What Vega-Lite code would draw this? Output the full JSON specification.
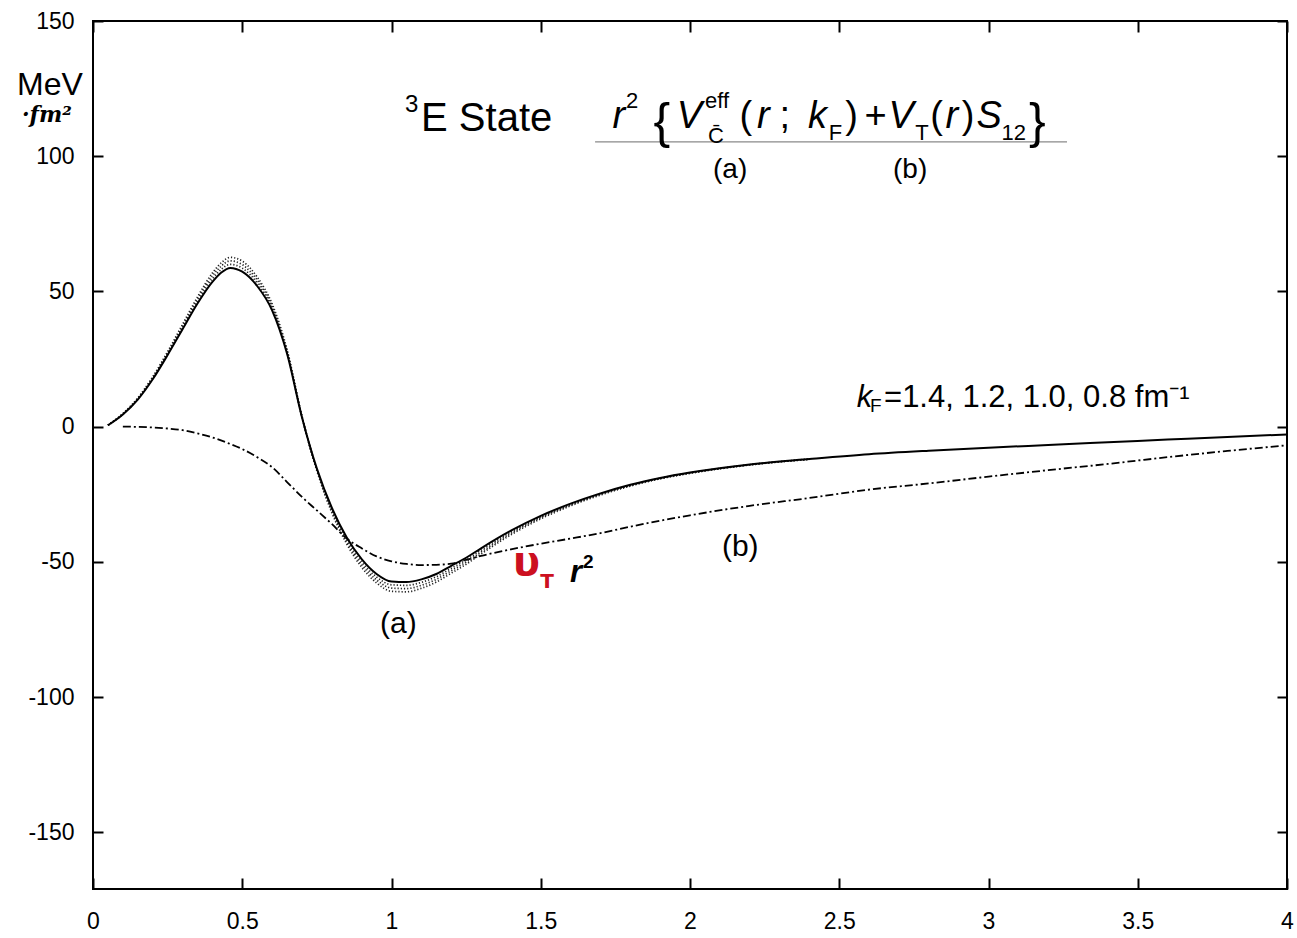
{
  "$schema": "https://vega.github.io/schema/vega-lite/v6.json",
  "width": 1194,
  "height": 868,
  "autosize": "none",
  "padding": {"left": 93, "top": 21, "right": 10, "bottom": 49},
  "background": "white",
  "config": {
    "view": {"stroke": "black", "strokeWidth": 2},
    "font": "Liberation Sans",
    "axis": {"grid": false, "domain": false, "ticks": true, "tickColor": "black", "tickWidth": 2, "labelColor": "black", "labelFont": "Liberation Sans", "labelFontSize": 23}
  },
  "resolve": {"axis": {"x": "independent", "y": "independent"}},
  "datasets": {
    "a_solid": [
      {"r": 0.05, "v": 0.5}, {"r": 0.1, "v": 4.5}, {"r": 0.15, "v": 10}, {"r": 0.2, "v": 17.5}, {"r": 0.25, "v": 26.5},
      {"r": 0.3, "v": 36}, {"r": 0.35, "v": 45.5}, {"r": 0.4, "v": 53.5}, {"r": 0.43, "v": 57}, {"r": 0.46, "v": 58.7},
      {"r": 0.5, "v": 57.3}, {"r": 0.55, "v": 52}, {"r": 0.6, "v": 43}, {"r": 0.65, "v": 27}, {"r": 0.7, "v": 3.5},
      {"r": 0.75, "v": -15.5}, {"r": 0.8, "v": -30}, {"r": 0.85, "v": -41}, {"r": 0.9, "v": -49}, {"r": 0.95, "v": -54.5},
      {"r": 1.0, "v": -57.3}, {"r": 1.05, "v": -57.5}, {"r": 1.1, "v": -56.5}, {"r": 1.15, "v": -54.5}, {"r": 1.2, "v": -51.5},
      {"r": 1.25, "v": -48.5}, {"r": 1.3, "v": -45}, {"r": 1.4, "v": -38.5}, {"r": 1.5, "v": -33}, {"r": 1.6, "v": -28.5},
      {"r": 1.7, "v": -24.7}, {"r": 1.8, "v": -21.5}, {"r": 1.9, "v": -19}, {"r": 2.0, "v": -17}, {"r": 2.2, "v": -14},
      {"r": 2.4, "v": -12}, {"r": 2.6, "v": -10.2}, {"r": 2.8, "v": -8.9}, {"r": 3.0, "v": -7.8}, {"r": 3.2, "v": -6.8},
      {"r": 3.4, "v": -5.8}, {"r": 3.6, "v": -4.8}, {"r": 3.8, "v": -3.8}, {"r": 4.0, "v": -2.9}
    ],
    "a_dot": [
      {"k": "1.2", "r": 0.05, "v": 0.5}, {"k": "1.2", "r": 0.1, "v": 4.6}, {"k": "1.2", "r": 0.15, "v": 10.2}, {"k": "1.2", "r": 0.2, "v": 17.8}, {"k": "1.2", "r": 0.25, "v": 26.9},
      {"k": "1.2", "r": 0.3, "v": 36.6}, {"k": "1.2", "r": 0.35, "v": 46.3}, {"k": "1.2", "r": 0.4, "v": 54.6}, {"k": "1.2", "r": 0.43, "v": 58.2}, {"k": "1.2", "r": 0.46, "v": 60},
      {"k": "1.2", "r": 0.5, "v": 58.6}, {"k": "1.2", "r": 0.55, "v": 53.1}, {"k": "1.2", "r": 0.6, "v": 43.8}, {"k": "1.2", "r": 0.65, "v": 27.5}, {"k": "1.2", "r": 0.7, "v": 3.6},
      {"k": "1.2", "r": 0.75, "v": -15.8}, {"k": "1.2", "r": 0.8, "v": -30.6}, {"k": "1.2", "r": 0.85, "v": -41.8}, {"k": "1.2", "r": 0.9, "v": -50}, {"k": "1.2", "r": 0.95, "v": -55.6},
      {"k": "1.2", "r": 1.0, "v": -58.5}, {"k": "1.2", "r": 1.05, "v": -58.7}, {"k": "1.2", "r": 1.1, "v": -57.6}, {"k": "1.2", "r": 1.15, "v": -55.5}, {"k": "1.2", "r": 1.2, "v": -52.4},
      {"k": "1.2", "r": 1.25, "v": -49.3}, {"k": "1.2", "r": 1.3, "v": -45.7}, {"k": "1.2", "r": 1.4, "v": -39}, {"k": "1.2", "r": 1.5, "v": -33.4}, {"k": "1.2", "r": 1.6, "v": -28.8},
      {"k": "1.2", "r": 1.7, "v": -24.9}, {"k": "1.2", "r": 1.8, "v": -21.7}, {"k": "1.2", "r": 1.9, "v": -19.1}, {"k": "1.2", "r": 2.0, "v": -17.1}, {"k": "1.2", "r": 2.2, "v": -14.1}, {"k": "1.2", "r": 2.4, "v": -12},
      {"k": "1.0", "r": 0.05, "v": 0.5}, {"k": "1.0", "r": 0.1, "v": 4.7}, {"k": "1.0", "r": 0.15, "v": 10.4}, {"k": "1.0", "r": 0.2, "v": 18.1}, {"k": "1.0", "r": 0.25, "v": 27.3},
      {"k": "1.0", "r": 0.3, "v": 37.2}, {"k": "1.0", "r": 0.35, "v": 47.1}, {"k": "1.0", "r": 0.4, "v": 55.7}, {"k": "1.0", "r": 0.43, "v": 59.4}, {"k": "1.0", "r": 0.46, "v": 61.3},
      {"k": "1.0", "r": 0.5, "v": 59.9}, {"k": "1.0", "r": 0.55, "v": 54.2}, {"k": "1.0", "r": 0.6, "v": 44.6}, {"k": "1.0", "r": 0.65, "v": 28}, {"k": "1.0", "r": 0.7, "v": 3.7},
      {"k": "1.0", "r": 0.75, "v": -16.1}, {"k": "1.0", "r": 0.8, "v": -31.2}, {"k": "1.0", "r": 0.85, "v": -42.6}, {"k": "1.0", "r": 0.9, "v": -51}, {"k": "1.0", "r": 0.95, "v": -56.7},
      {"k": "1.0", "r": 1.0, "v": -59.7}, {"k": "1.0", "r": 1.05, "v": -59.9}, {"k": "1.0", "r": 1.1, "v": -58.7}, {"k": "1.0", "r": 1.15, "v": -56.5}, {"k": "1.0", "r": 1.2, "v": -53.3},
      {"k": "1.0", "r": 1.25, "v": -50.1}, {"k": "1.0", "r": 1.3, "v": -46.4}, {"k": "1.0", "r": 1.4, "v": -39.5}, {"k": "1.0", "r": 1.5, "v": -33.7}, {"k": "1.0", "r": 1.6, "v": -29},
      {"k": "1.0", "r": 1.7, "v": -25.1}, {"k": "1.0", "r": 1.8, "v": -21.8}, {"k": "1.0", "r": 1.9, "v": -19.2}, {"k": "1.0", "r": 2.0, "v": -17.2}, {"k": "1.0", "r": 2.2, "v": -14.1}, {"k": "1.0", "r": 2.4, "v": -12.1},
      {"k": "0.8", "r": 0.05, "v": 0.5}, {"k": "0.8", "r": 0.1, "v": 4.8}, {"k": "0.8", "r": 0.15, "v": 10.6}, {"k": "0.8", "r": 0.2, "v": 18.4}, {"k": "0.8", "r": 0.25, "v": 27.7},
      {"k": "0.8", "r": 0.3, "v": 37.8}, {"k": "0.8", "r": 0.35, "v": 47.9}, {"k": "0.8", "r": 0.4, "v": 56.8}, {"k": "0.8", "r": 0.43, "v": 60.6}, {"k": "0.8", "r": 0.46, "v": 62.6},
      {"k": "0.8", "r": 0.5, "v": 61.2}, {"k": "0.8", "r": 0.55, "v": 55.3}, {"k": "0.8", "r": 0.6, "v": 45.4}, {"k": "0.8", "r": 0.65, "v": 28.5}, {"k": "0.8", "r": 0.7, "v": 3.8},
      {"k": "0.8", "r": 0.75, "v": -16.4}, {"k": "0.8", "r": 0.8, "v": -31.8}, {"k": "0.8", "r": 0.85, "v": -43.4}, {"k": "0.8", "r": 0.9, "v": -52}, {"k": "0.8", "r": 0.95, "v": -57.8},
      {"k": "0.8", "r": 1.0, "v": -60.9}, {"k": "0.8", "r": 1.05, "v": -61.1}, {"k": "0.8", "r": 1.1, "v": -59.8}, {"k": "0.8", "r": 1.15, "v": -57.5}, {"k": "0.8", "r": 1.2, "v": -54.2},
      {"k": "0.8", "r": 1.25, "v": -50.9}, {"k": "0.8", "r": 1.3, "v": -47.1}, {"k": "0.8", "r": 1.4, "v": -40}, {"k": "0.8", "r": 1.5, "v": -34.1}, {"k": "0.8", "r": 1.6, "v": -29.3},
      {"k": "0.8", "r": 1.7, "v": -25.3}, {"k": "0.8", "r": 1.8, "v": -22}, {"k": "0.8", "r": 1.9, "v": -19.3}, {"k": "0.8", "r": 2.0, "v": -17.3}, {"k": "0.8", "r": 2.2, "v": -14.2}, {"k": "0.8", "r": 2.4, "v": -12.1}
    ],
    "b": [
      {"r": 0.1, "v": 0}, {"r": 0.2, "v": -0.3}, {"r": 0.25, "v": -0.7}, {"r": 0.3, "v": -1.3}, {"r": 0.35, "v": -2.5},
      {"r": 0.4, "v": -4}, {"r": 0.45, "v": -6}, {"r": 0.5, "v": -8.3}, {"r": 0.55, "v": -11.3}, {"r": 0.6, "v": -15},
      {"r": 0.65, "v": -20.5}, {"r": 0.7, "v": -26}, {"r": 0.75, "v": -31}, {"r": 0.8, "v": -36}, {"r": 0.85, "v": -41.4},
      {"r": 0.9, "v": -45}, {"r": 0.95, "v": -48}, {"r": 1.0, "v": -49.8}, {"r": 1.05, "v": -50.8}, {"r": 1.1, "v": -51.2},
      {"r": 1.15, "v": -51.1}, {"r": 1.2, "v": -50.7}, {"r": 1.25, "v": -49.3}, {"r": 1.3, "v": -47.8}, {"r": 1.4, "v": -45.4},
      {"r": 1.5, "v": -43.3}, {"r": 1.6, "v": -41.4}, {"r": 1.7, "v": -39.4}, {"r": 1.8, "v": -37}, {"r": 1.9, "v": -34.8},
      {"r": 2.0, "v": -32.8}, {"r": 2.2, "v": -29.3}, {"r": 2.4, "v": -26.4}, {"r": 2.6, "v": -23.3}, {"r": 2.8, "v": -21},
      {"r": 3.0, "v": -18.5}, {"r": 3.2, "v": -16.1}, {"r": 3.4, "v": -13.8}, {"r": 3.6, "v": -11.3}, {"r": 3.8, "v": -9}, {"r": 4.0, "v": -6.9}
    ],
    "t_big": [{"t": "E State", "r": 1.099, "v": 109.3}],
    "t_sup3": [{"t": "3", "r": 1.045, "v": 116.3}],
    "f_it": [
      {"t": "r", "r": 1.740, "v": 110.4}, {"t": "V", "r": 1.956, "v": 110.4}, {"t": "r", "r": 2.2245, "v": 110.4},
      {"t": "k", "r": 2.395, "v": 110.4}, {"t": "V", "r": 2.665, "v": 110.4}, {"t": "r", "r": 2.856, "v": 110.4}, {"t": "S", "r": 2.960, "v": 110.4}
    ],
    "f_up": [
      {"t": "(", "r": 2.166, "v": 110.4}, {"t": ";", "r": 2.300, "v": 110.4}, {"t": ")", "r": 2.520, "v": 110.4},
      {"t": "+", "r": 2.585, "v": 110.4}, {"t": "(", "r": 2.805, "v": 110.4}, {"t": ")", "r": 2.910, "v": 110.4}
    ],
    "f_brace": [{"t": "{", "r": 1.878, "v": 106.7}, {"t": "}", "r": 3.136, "v": 106.7}],
    "f_small": [
      {"t": "2", "r": 1.786, "v": 117.8}, {"t": "eff", "r": 2.050, "v": 117.8}, {"t": "C̄", "r": 2.060, "v": 104.8},
      {"t": "F", "r": 2.465, "v": 106.0}, {"t": "T", "r": 2.755, "v": 106.0}, {"t": "12", "r": 3.0435, "v": 106.0}
    ],
    "uline": [{"r": 1.682, "r2": 3.263, "v": 105.3}],
    "lab_title": [{"t": "(a)", "r": 2.077, "v": 91.9}, {"t": "(b)", "r": 2.680, "v": 91.9}],
    "lab_plot": [{"t": "(a)", "r": 0.9615, "v": -76.3}, {"t": "(b)", "r": 2.107, "v": -47.9}],
    "kf_it": [{"t": "k", "r": 2.559, "v": 7.25}],
    "kf_sub": [{"t": "F", "r": 2.603, "v": 5.4}],
    "kf_main": [{"t": "=1.4, 1.2, 1.0, 0.8 fm⁻¹", "r": 2.650, "v": 7.25}],
    "unit_mev": [{"t": "MeV", "r": -0.2546, "v": 122.6}],
    "unit_fm": [{"t": "·fm²", "r": -0.238, "v": 112.6}],
    "red_u": [{"t": "υ", "r": 1.407, "v": -54.9}],
    "red_t": [{"t": "T", "r": 1.498, "v": -59.7}],
    "r2_r": [{"t": "r", "r": 1.598, "v": -57.5}],
    "r2_2": [{"t": "2", "r": 1.6415, "v": -52.3}]
  },
  "layer": [
    {
      "mark": {"type": "rule", "color": "black", "strokeWidth": 1.4},
      "encoding": {"y": {"datum": 0, "type": "quantitative", "axis": null}}
    },
    {
      "data": {"name": "b"},
      "mark": {"type": "line", "color": "black", "strokeWidth": 1.8, "strokeDash": [8, 3, 2, 3], "interpolate": "monotone"},
      "encoding": {
        "x": {"field": "r", "type": "quantitative", "axis": null},
        "y": {"field": "v", "type": "quantitative", "axis": null}
      }
    },
    {
      "data": {"name": "a_dot"},
      "mark": {"type": "line", "color": "#222", "strokeWidth": 1.7, "strokeDash": [1.2, 2], "interpolate": "monotone"},
      "encoding": {
        "x": {"field": "r", "type": "quantitative", "axis": {"orient": "top", "values": [0, 0.5, 1, 1.5, 2, 2.5, 3, 3.5, 4], "labels": false, "tickSize": -11, "title": null}},
        "y": {"field": "v", "type": "quantitative", "axis": {"orient": "right", "values": [-150, -100, -50, 0, 50, 100, 150], "labels": false, "tickSize": -10, "title": null}},
        "detail": {"field": "k"}
      }
    },
    {
      "data": {"name": "a_solid"},
      "mark": {"type": "line", "color": "black", "strokeWidth": 2, "interpolate": "monotone"},
      "encoding": {
        "x": {"field": "r", "type": "quantitative", "scale": {"domain": [0, 4], "nice": false, "zero": false},
              "axis": {"orient": "bottom", "values": [0, 0.5, 1, 1.5, 2, 2.5, 3, 3.5, 4], "format": "~g", "labelFontSize": 23, "tickSize": -11, "labelPadding": 32, "labelFlush": false, "labelOverlap": false, "title": null}},
        "y": {"field": "v", "type": "quantitative", "scale": {"domain": [-171, 150], "nice": false, "zero": false},
              "axis": {"orient": "left", "values": [-150, -100, -50, 0, 50, 100, 150], "format": "d", "labelFontSize": 23, "labelExpr": "replace(datum.label, '−', '-')", "tickSize": -10, "labelPadding": 29, "labelOverlap": false, "title": null}}
      }
    },
    {
      "data": {"name": "uline"},
      "mark": {"type": "rule", "color": "#8a8a8a", "strokeWidth": 1.2},
      "encoding": {
        "x": {"field": "r", "type": "quantitative", "axis": null},
        "x2": {"field": "r2"},
        "y": {"field": "v", "type": "quantitative", "axis": null}
      }
    },
    {
      "data": {"name": "t_big"},
      "mark": {"type": "text", "align": "left", "baseline": "alphabetic", "fontSize": 40, "font": "Liberation Sans", "color": "black"},
      "encoding": {"x": {"field": "r", "type": "quantitative", "axis": null}, "y": {"field": "v", "type": "quantitative", "axis": null}, "text": {"field": "t"}}
    },
    {
      "data": {"name": "t_sup3"},
      "mark": {"type": "text", "align": "left", "baseline": "alphabetic", "fontSize": 24, "font": "Liberation Sans", "color": "black"},
      "encoding": {"x": {"field": "r", "type": "quantitative", "axis": null}, "y": {"field": "v", "type": "quantitative", "axis": null}, "text": {"field": "t"}}
    },
    {
      "data": {"name": "f_it"},
      "mark": {"type": "text", "align": "left", "baseline": "alphabetic", "fontSize": 38, "fontStyle": "italic", "font": "Liberation Sans", "color": "black"},
      "encoding": {"x": {"field": "r", "type": "quantitative", "axis": null}, "y": {"field": "v", "type": "quantitative", "axis": null}, "text": {"field": "t"}}
    },
    {
      "data": {"name": "f_up"},
      "mark": {"type": "text", "align": "left", "baseline": "alphabetic", "fontSize": 38, "font": "Liberation Sans", "color": "black"},
      "encoding": {"x": {"field": "r", "type": "quantitative", "axis": null}, "y": {"field": "v", "type": "quantitative", "axis": null}, "text": {"field": "t"}}
    },
    {
      "data": {"name": "f_brace"},
      "mark": {"type": "text", "align": "left", "baseline": "alphabetic", "fontSize": 50, "font": "Liberation Sans", "color": "black"},
      "encoding": {"x": {"field": "r", "type": "quantitative", "axis": null}, "y": {"field": "v", "type": "quantitative", "axis": null}, "text": {"field": "t"}}
    },
    {
      "data": {"name": "f_small"},
      "mark": {"type": "text", "align": "left", "baseline": "alphabetic", "fontSize": 22, "font": "Liberation Sans", "color": "black"},
      "encoding": {"x": {"field": "r", "type": "quantitative", "axis": null}, "y": {"field": "v", "type": "quantitative", "axis": null}, "text": {"field": "t"}}
    },
    {
      "data": {"name": "lab_title"},
      "mark": {"type": "text", "align": "left", "baseline": "alphabetic", "fontSize": 28, "font": "Liberation Sans", "color": "black"},
      "encoding": {"x": {"field": "r", "type": "quantitative", "axis": null}, "y": {"field": "v", "type": "quantitative", "axis": null}, "text": {"field": "t"}}
    },
    {
      "data": {"name": "lab_plot"},
      "mark": {"type": "text", "align": "left", "baseline": "alphabetic", "fontSize": 30, "font": "Liberation Sans", "color": "black"},
      "encoding": {"x": {"field": "r", "type": "quantitative", "axis": null}, "y": {"field": "v", "type": "quantitative", "axis": null}, "text": {"field": "t"}}
    },
    {
      "data": {"name": "kf_it"},
      "mark": {"type": "text", "align": "left", "baseline": "alphabetic", "fontSize": 31, "fontStyle": "italic", "font": "Liberation Sans", "color": "black"},
      "encoding": {"x": {"field": "r", "type": "quantitative", "axis": null}, "y": {"field": "v", "type": "quantitative", "axis": null}, "text": {"field": "t"}}
    },
    {
      "data": {"name": "kf_sub"},
      "mark": {"type": "text", "align": "left", "baseline": "alphabetic", "fontSize": 19, "font": "Liberation Sans", "color": "black"},
      "encoding": {"x": {"field": "r", "type": "quantitative", "axis": null}, "y": {"field": "v", "type": "quantitative", "axis": null}, "text": {"field": "t"}}
    },
    {
      "data": {"name": "kf_main"},
      "mark": {"type": "text", "align": "left", "baseline": "alphabetic", "fontSize": 31, "font": "Liberation Sans", "color": "black"},
      "encoding": {"x": {"field": "r", "type": "quantitative", "axis": null}, "y": {"field": "v", "type": "quantitative", "axis": null}, "text": {"field": "t"}}
    },
    {
      "data": {"name": "unit_mev"},
      "mark": {"type": "text", "align": "left", "baseline": "alphabetic", "fontSize": 32, "font": "Liberation Sans", "color": "black"},
      "encoding": {"x": {"field": "r", "type": "quantitative", "axis": null}, "y": {"field": "v", "type": "quantitative", "axis": null}, "text": {"field": "t"}}
    },
    {
      "data": {"name": "unit_fm"},
      "mark": {"type": "text", "align": "left", "baseline": "alphabetic", "fontSize": 22, "fontStyle": "italic", "fontWeight": "bold", "font": "DejaVu Serif", "color": "black"},
      "encoding": {"x": {"field": "r", "type": "quantitative", "axis": null}, "y": {"field": "v", "type": "quantitative", "axis": null}, "text": {"field": "t"}}
    },
    {
      "data": {"name": "red_u"},
      "mark": {"type": "text", "align": "left", "baseline": "alphabetic", "fontSize": 40, "fontWeight": "bold", "font": "DejaVu Sans", "color": "#cc1020"},
      "encoding": {"x": {"field": "r", "type": "quantitative", "axis": null}, "y": {"field": "v", "type": "quantitative", "axis": null}, "text": {"field": "t"}}
    },
    {
      "data": {"name": "red_t"},
      "mark": {"type": "text", "align": "left", "baseline": "alphabetic", "fontSize": 20, "fontWeight": "bold", "font": "DejaVu Sans", "color": "#cc1020"},
      "encoding": {"x": {"field": "r", "type": "quantitative", "axis": null}, "y": {"field": "v", "type": "quantitative", "axis": null}, "text": {"field": "t"}}
    },
    {
      "data": {"name": "r2_r"},
      "mark": {"type": "text", "align": "left", "baseline": "alphabetic", "fontSize": 31, "fontWeight": "bold", "fontStyle": "italic", "font": "Liberation Sans", "color": "black"},
      "encoding": {"x": {"field": "r", "type": "quantitative", "axis": null}, "y": {"field": "v", "type": "quantitative", "axis": null}, "text": {"field": "t"}}
    },
    {
      "data": {"name": "r2_2"},
      "mark": {"type": "text", "align": "left", "baseline": "alphabetic", "fontSize": 19, "fontWeight": "bold", "font": "Liberation Sans", "color": "black"},
      "encoding": {"x": {"field": "r", "type": "quantitative", "axis": null}, "y": {"field": "v", "type": "quantitative", "axis": null}, "text": {"field": "t"}}
    }
  ]
}
